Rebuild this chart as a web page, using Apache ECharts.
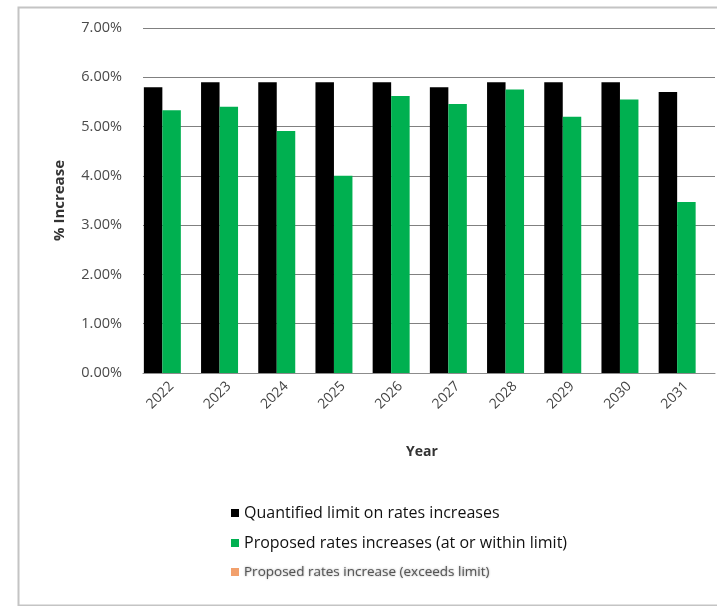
<!DOCTYPE html>
<html>
<head>
<meta charset="utf-8">
<script src="https://cdn.jsdelivr.net/npm/echarts@6/dist/echarts.min.js"></script>
<style>
  html, body { margin: 0; padding: 0; background: #ffffff; }
  #chart { width: 717px; height: 606px; }
</style>
</head>
<body>
<div id="chart"></div>
<script>
// Rate increase data by year (percent)
const years = ['2022', '2023', '2024', '2025', '2026', '2027', '2028', '2029', '2030', '2031'];
const limitValues = [5.80, 5.90, 5.90, 5.90, 5.90, 5.80, 5.90, 5.90, 5.90, 5.70];
const proposedWithin = [5.33, 5.40, 4.91, 4.00, 5.62, 5.46, 5.75, 5.20, 5.55, 3.47];
const proposedExceeds = [null, null, null, null, null, null, null, null, null, null];
const yTicks = { min: 0, max: 7, interval: 1 };

const seriesNames = [
  'Quantified limit on rates increases',
  'Proposed rates increases (at or within limit)',
  'Proposed rates increase (exceeds limit)'
];
const seriesColors = ['#000000', '#00b050', '#f2a06c'];

const chart = echarts.init(document.getElementById('chart'), null, { renderer: 'canvas' });

chart.setOption({
  backgroundColor: '#ffffff',
  animation: false,
  textStyle: { fontFamily: 'Open Sans, Noto Sans, sans-serif' },
  graphic: [{
    type: 'rect',
    left: 16, top: 5,
    shape: { width: 720, height: 598 },
    style: { fill: 'none', stroke: '#c4c4c4', lineWidth: 2 }
  }],
  grid: { left: 143, right: 2, top: 28, bottom: 233, containLabel: false },
  legend: {
    orient: 'vertical',
    left: 226,
    top: 500,
    itemWidth: 8,
    itemHeight: 8,
    itemGap: 14,
    icon: 'rect',
    textStyle: { fontSize: 16, color: '#111111', fontFamily: 'Open Sans, sans-serif' },
    data: [
      { name: seriesNames[0] },
      { name: seriesNames[1] },
      { name: seriesNames[2], textStyle: { fontSize: 13.5, color: '#555555',
        textShadowColor: 'rgba(85,85,85,0.6)', textShadowBlur: 2 } }
    ]
  },
  xAxis: {
    type: 'category',
    data: years,
    name: 'Year',
    nameLocation: 'middle',
    nameGap: 72,
    nameTextStyle: { fontWeight: 'bold', fontSize: 14, color: '#333333', padding: [0, 14, 0, 0] },
    axisLine: { show: true, lineStyle: { color: '#8c8c8c', width: 1 } },
    axisTick: { show: false },
    axisLabel: { rotate: 45, fontSize: 14, color: '#444444', margin: 11 }
  },
  yAxis: {
    type: 'value',
    min: yTicks.min,
    max: yTicks.max,
    interval: yTicks.interval,
    name: '% Increase',
    nameLocation: 'middle',
    nameGap: 76,
    nameRotate: 90,
    nameTextStyle: { fontWeight: 'bold', fontSize: 15, color: '#333333' },
    axisLine: { show: false },
    axisTick: { show: false },
    splitLine: { show: true, lineStyle: { color: '#808080', width: 1 } },
    axisLabel: {
      fontSize: 14.5, color: '#4a4a4a', margin: 21,
      formatter: v => v.toFixed(2) + '%'
    }
  },
  series: [
    { name: seriesNames[0], type: 'bar', data: limitValues, barGap: '0%', barCategoryGap: '3%',
      itemStyle: { color: seriesColors[0] } },
    { name: seriesNames[1], type: 'bar', data: proposedWithin,
      itemStyle: { color: seriesColors[1] } },
    { name: seriesNames[2], type: 'bar', data: proposedExceeds,
      itemStyle: { color: seriesColors[2] } }
  ]
});
</script>
</body>
</html>
